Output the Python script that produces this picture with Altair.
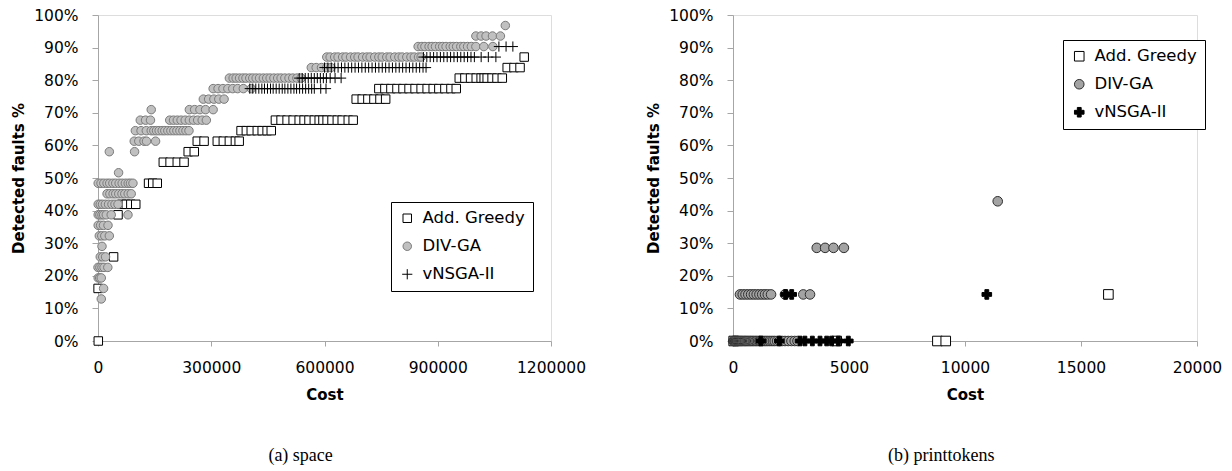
import altair as alt
import pandas as pd

SERIES = ["Add. Greedy", "DIV-GA", "vNSGA-II"]

# ---------------- (a) space : 31 faults, cost in thousands ----------------
SPACE_TOTAL_FAULTS = 31
space_add_greedy = {
    0: [0.8], 5: [0.3], 8: [41.3], 12: [53.0],
    13: [63, 75, 87, 100],
    15: [134, 145, 157],
    17: [173, 191, 210, 228],
    18: [239, 255],
    19: [263, 281, 316, 332, 348, 364, 374],
    20: [379, 393, 406, 422, 435, 448, 459],
    21: [470, 485, 501, 517, 533, 546, 559, 573, 586, 596, 607, 620, 634, 647, 663, 676],
    23: [684, 700, 715, 731, 747, 762],
    24: [744, 760, 776, 792, 808, 824, 840, 856, 872, 888, 903, 919, 935, 949],
    25: [957, 972, 987, 1002, 1015, 1023, 1031, 1044, 1057, 1071],
    26: [1084, 1102, 1118],
    27: [1129],
}
space_div_ga = {
    4: [8.7], 5: [14.8], 6: [0.5, 4.5, 8.7],
    7: [0.0, 5.0, 10.5, 16.0, 26.0],
    8: [6.0, 12.5, 20.0], 9: [10.6],
    10: [3.5, 10.0, 18.0, 30.0],
    11: [0.5, 7.0, 14.5, 26.5],
    12: [0.5, 5.0, 10.5, 15.0, 22.0, 35.0, 79.4],
    13: [0.5, 6.0, 12.0, 19.5, 28.0, 37.0, 45.0, 53.0],
    14: [24.0, 31.5, 40.0, 47.0, 55.0, 63.5, 71.0, 80.0, 88.0],
    15: [0.5, 8.0, 15.5, 24.0, 31.0, 39.5, 47.0, 56.0, 64.0, 72.5, 80.0, 86.0, 92.6],
    16: [54.5],
    18: [30.0, 96.9],
    19: [96.0, 108.0, 122.0, 128.5, 152.5],
    20: [99, 114, 128, 141, 148, 155, 162, 170, 177, 185, 193, 201, 209, 217, 225, 233, 241],
    21: [112, 126, 139, 190, 200, 210, 220, 231, 242, 253, 264, 276, 287],
    22: [141, 242, 256, 270, 285, 305],
    23: [279, 293, 307, 320, 334],
    24: [305, 318, 331, 344, 357, 370, 385, 406],
    25: [348, 358, 366, 375, 384, 392, 402, 410, 419, 428, 438, 447, 456, 466, 476,
         485, 495, 506, 516, 527, 538],
    26: [565, 578, 592, 606, 617],
    27: [606, 615, 627, 636, 648, 657, 669, 680, 689, 701, 712, 721, 733, 744, 753,
         765, 774, 786, 797, 806, 818, 829, 838, 849, 856],
    28: [848, 858, 866, 877, 885, 894, 905, 913, 922, 933, 941, 950, 961, 969, 979,
         989, 1001, 1022, 1046],
    29: [1001, 1015, 1028, 1045, 1066],
    30: [1079],
}
space_vnsga = {
    24: [402, 410, 418, 426, 434, 441, 449, 457, 464, 472, 480, 488, 495, 503, 511,
         519, 526, 534, 542, 550, 558, 566, 573, 590, 604],
    25: [533, 541, 549, 557, 565, 573, 581, 589, 597, 605, 615, 628, 644],
    26: [600, 609, 618, 627, 636, 645, 654, 663, 672, 681, 690, 699, 708, 717, 726,
         735, 744, 753, 762, 771, 780, 789, 798, 807, 816, 825, 834, 843, 852, 861, 869],
    27: [862, 871, 880, 889, 898, 907, 916, 925, 934, 943, 952, 961, 970, 979, 988,
         997, 1015, 1034, 1054],
    28: [1062, 1081, 1099],
}

# ---------------- (b) printtokens : 7 faults, cost in units ----------------
PT_TOTAL_FAULTS = 7
pt_add_greedy = {0: [30, 4470, 8810, 9170], 1: [16180]}
pt_div_ga = {
    0: [10, 40, 70, 100, 130, 170, 200, 240, 280, 320, 360, 400, 450, 500, 540, 590,
        640, 690, 740, 790, 850, 900, 960, 1020, 1080, 1140, 1200, 1270, 1340, 1410,
        1480, 1560, 1640, 1720, 1800, 1900, 2000, 2120, 2240, 2380, 2520, 2660, 2780],
    1: [300, 420, 540, 660, 780, 900, 1020, 1140, 1260, 1380, 1500, 1640, 2240, 3030, 3320],
    2: [3610, 3970, 4330, 4780],
    3: [11410],
}
pt_vnsga = {
    0: [1200, 2000, 2890, 3100, 3420, 3750, 4040, 4250, 4540, 4970],
    1: [2270, 2530, 10940],
}

space_x_ticks = [0, 300000, 600000, 900000, 1200000]
pt_x_ticks = [0, 5000, 10000, 15000, 20000]
y_ticks = [0, 0.1, 0.2, 0.3, 0.4, 0.5, 0.6, 0.7, 0.8, 0.9, 1.0]


def table(parts, total, unit):
    rows = []
    for name, d in parts:
        for k, costs in d.items():
            for c in costs:
                rows.append({"series": name, "cost": c * unit, "pct": k / total})
    return pd.DataFrame(rows)


space_df = table([("Add. Greedy", space_add_greedy), ("DIV-GA", space_div_ga),
                  ("vNSGA-II", space_vnsga)], SPACE_TOTAL_FAULTS, 1000)
pt_df = table([("Add. Greedy", pt_add_greedy), ("DIV-GA", pt_div_ga),
               ("vNSGA-II", pt_vnsga)], PT_TOTAL_FAULTS, 1)

FONT = "DejaVu Sans"
AX = dict(grid=False, domainColor="#a6a6a6", tickColor="#a6a6a6",
          labelFont=FONT, labelFontSize=15.5, labelColor="black",
          titleFont=FONT, titleFontSize=15, titleFontWeight="bold", titleColor="black",
          labelOverlap=False, labelFlush=False)

PLUS = "M-1.2,0L1.2,0M0,-1.2L0,1.2"


def panel(df, xdom, xticks, w, fills, strokes, shapes, widths, size, lx, ly, caption, cdx):
    leg = alt.Legend(title=None, orient="none", legendX=lx, legendY=ly,
                     strokeColor="black", fillColor="white", padding=8,
                     labelFont=FONT, labelFontSize=16.5, labelColor="black",
                     rowPadding=11, labelOffset=7, symbolSize=size)
    return alt.Chart(df).mark_point(filled=True, opacity=1, size=size).encode(
        x=alt.X("cost:Q", scale=alt.Scale(domain=xdom, nice=False),
                axis=alt.Axis(values=xticks, format="d", title="Cost", tickSize=5,
                              labelPadding=14, titlePadding=12, **AX)),
        y=alt.Y("pct:Q", scale=alt.Scale(domain=[0, 1], nice=False),
                axis=alt.Axis(values=y_ticks, format=".0%", title="Detected faults %",
                              tickSize=6, labelPadding=14, titlePadding=7, **AX)),
        fill=alt.Fill("series:N", scale=alt.Scale(domain=SERIES, range=fills), legend=leg),
        stroke=alt.Stroke("series:N", scale=alt.Scale(domain=SERIES, range=strokes), legend=leg),
        shape=alt.Shape("series:N", scale=alt.Scale(domain=SERIES, range=shapes), legend=leg),
        strokeWidth=alt.StrokeWidth("series:N", scale=alt.Scale(domain=SERIES, range=widths), legend=leg),
    ).properties(
        width=w, height=326,
        title=alt.TitleParams(text=caption, orient="bottom", font="Liberation Serif",
                              fontSize=18, fontWeight="normal", color="black",
                              anchor="middle", frame="bounds", offset=44, dx=cdx),
    )


left = panel(space_df, [0, 1200000], space_x_ticks, 453,
             ["white", "#c0c0c0", "black"], ["black", "#7a7a7a", "black"],
             ["square", "circle", PLUS], [1, 1, 1.6], 72, 293, 187, "(a) space", 2)
right = panel(pt_df, [0, 20000], pt_x_ticks, 464,
              ["white", "#a3a3a3", "black"], ["black", "#2e2e2e", "black"],
              ["square", "circle", "cross"], [1, 1, 0.5], 92, 330, 25, "(b) printtokens", 7)

chart = alt.hconcat(left, right, spacing=59).resolve_scale(
    fill="independent", stroke="independent", shape="independent", strokeWidth="independent"
).resolve_legend(
    fill="independent", stroke="independent", shape="independent", strokeWidth="independent"
).properties(
    padding={"left": 11, "top": 7, "right": 5, "bottom": 0}
).configure_view(stroke=None).configure(background="white")

chart.save("out.html", embed_options={"renderer": "svg", "actions": False})
